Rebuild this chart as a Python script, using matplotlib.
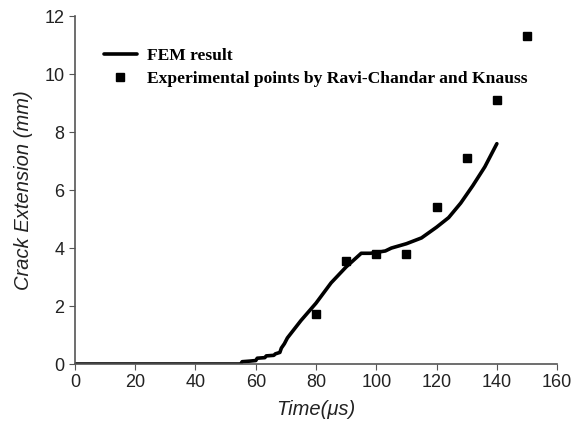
import matplotlib
matplotlib.use("Agg")
import matplotlib.pyplot as plt

fem_t = [0, 55, 55.5, 58, 60, 60.5, 63, 63.5, 66, 66.5, 68, 68.5, 69.5, 70.5, 75, 80, 85, 90, 95, 98, 100, 103, 105, 110, 115, 120, 124, 128, 132, 136, 140]
fem_y = [0, 0, 0.08, 0.1, 0.12, 0.2, 0.22, 0.28, 0.3, 0.35, 0.4, 0.55, 0.7, 0.9, 1.5, 2.1, 2.8, 3.35, 3.82, 3.82, 3.85, 3.9, 4.0, 4.15, 4.35, 4.72, 5.05, 5.55, 6.15, 6.8, 7.6]

exp_t = [80, 90, 100, 110, 120, 130, 140, 150]
exp_y = [1.72, 3.55, 3.78, 3.8, 5.4, 7.1, 9.1, 11.3]

fig = plt.figure(figsize=(5.72, 4.25), dpi=100)
ax = fig.add_axes([0.131, 0.1435, 0.843, 0.8185])

ax.plot(fem_t, fem_y, color='black', lw=2.6, label='FEM result', solid_capstyle='round')
ax.plot(exp_t, exp_y, linestyle='none', marker='s', ms=6, color='black',
        label='Experimental points by Ravi-Chandar and Knauss')

ax.set_xlim(0, 160)
ax.set_ylim(0, 12)
ax.set_xticks(range(0, 161, 20))
ax.set_yticks(range(0, 13, 2))
for s in ['top', 'right']:
    ax.spines[s].set_visible(False)
for s in ['left', 'bottom']:
    ax.spines[s].set_color('#555555')
    ax.spines[s].set_linewidth(1.2)
ax.tick_params(direction='out', length=4, color='#555555', labelsize=13,
               labelcolor='#222222')
for lab in ax.get_xticklabels() + ax.get_yticklabels():
    lab.set_family('Liberation Sans')

ax.set_xlabel('Time(\u03bcs)', fontsize=14.5, style='italic', family='Liberation Sans',
              color='#222222', labelpad=6)
ax.set_ylabel('Crack Extension (mm)', fontsize=14.5, style='italic', family='Liberation Sans',
              color='#222222', labelpad=8)

leg = ax.legend(loc='upper left', bbox_to_anchor=(0.045, 0.93), frameon=False,
                prop={'family': 'Liberation Serif', 'weight': 'bold', 'size': 12.6},
                handlelength=1.9, handletextpad=0.6, labelspacing=0.4, borderaxespad=0)

fig.savefig('out.png', dpi=100)
